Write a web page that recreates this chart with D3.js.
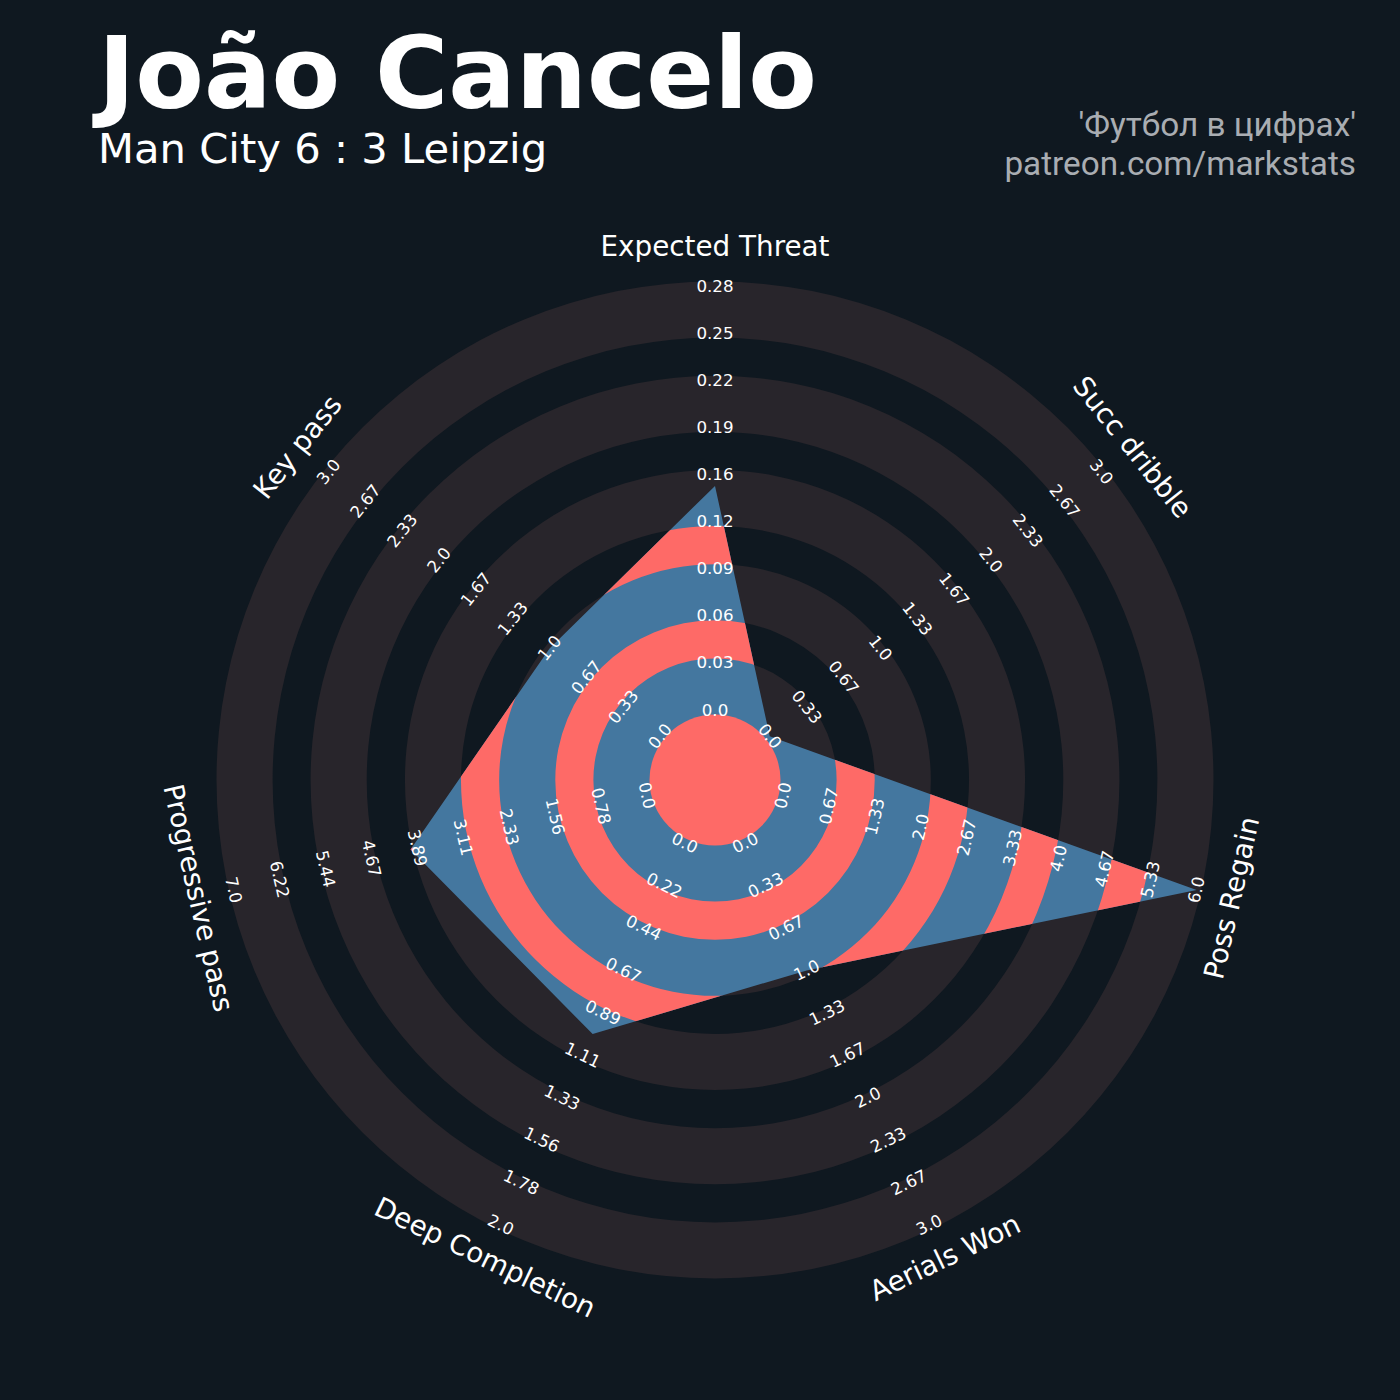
<!DOCTYPE html>
<html><head><meta charset="utf-8">
<script src="https://cdnjs.cloudflare.com/ajax/libs/d3/7.8.5/d3.min.js"></script>
<style>body{margin:0;background:#0f1820;} svg{display:block}</style>
</head><body>
<svg id="chart" width="1400" height="1400"></svg>
<script>
// ---------- data ----------
const params = ["Expected Threat", "Succ dribble", "Poss Regain", "Aerials Won", "Deep Completion", "Progressive pass", "Key pass"];
const rangeMin = [0, 0, 0, 0, 0, 0, 0];
const rangeMax = [0.28, 3, 6, 3, 2, 7, 3];
const values = [0.148, 0, 6, 1, 1, 4, 1];
const tickLabels = [
  ["0.0","0.03","0.06","0.09","0.12","0.16","0.19","0.22","0.25","0.28"],
  ["0.0","0.33","0.67","1.0","1.33","1.67","2.0","2.33","2.67","3.0"],
  ["0.0","0.67","1.33","2.0","2.67","3.33","4.0","4.67","5.33","6.0"],
  ["0.0","0.33","0.67","1.0","1.33","1.67","2.0","2.33","2.67","3.0"],
  ["0.0","0.22","0.44","0.67","0.89","1.11","1.33","1.56","1.78","2.0"],
  ["0.0","0.78","1.56","2.33","3.11","3.89","4.67","5.44","6.22","7.0"],
  ["0.0","0.33","0.67","1.0","1.33","1.67","2.0","2.33","2.67","3.0"]
];
const titleText = "João Cancelo";
const subtitleText = "Man City 6 : 3 Leipzig";
const creditLines = ["'Футбол в цифрах'", "patreon.com/markstats"];

// ---------- layout ----------
const W = 1400, H = 1400;
const cx = 715, cy = 780;
const r0 = 70, R = 494, numRings = 9, pad = 4.5;
const colors = { bg: "#0f1820", ring: "#28252b", blue: "#44779f", red: "#fe6a67", text: "#ffffff", credit: "#a9adb2" };

const svg = d3.select("#chart");
svg.append("rect").attr("width", W).attr("height", H).attr("fill", colors.bg);

const n = params.length;
const angle = i => i * 2 * Math.PI / n;
const ringScale = d3.scaleLinear().domain([0, numRings]).range([r0, R]);
const valueScales = params.map((p, i) => d3.scaleLinear().domain([rangeMin[i], rangeMax[i]]).range([r0, R]));

const g = svg.append("g").attr("transform", `translate(${cx},${cy})`);
const arc = d3.arc().startAngle(0).endAngle(2 * Math.PI);

// outer alternating rings
const ringBands = d3.range(0, numRings, 2).map(k => [ringScale(k) - pad, ringScale(k + 1) + pad]);
g.selectAll("path.ring").data(ringBands).join("path")
  .attr("class", "ring")
  .attr("d", d => arc({ innerRadius: d[0], outerRadius: d[1] }))
  .attr("fill", colors.ring);

// radar polygon
const radial = d3.lineRadial()
  .angle((d, i) => angle(i))
  .radius((d, i) => valueScales[i](d))
  .curve(d3.curveLinearClosed);
const polyD = radial(values);

svg.append("defs").append("clipPath").attr("id", "polyClip")
  .append("path").attr("d", polyD);

g.append("path").attr("d", polyD).attr("fill", colors.blue);

// alternate colour bands inside polygon
const redBands = [[0, ringScale(0) - pad]].concat(
  d3.range(1, numRings, 2).map(k => [ringScale(k) + pad, ringScale(k + 1) - pad]));
g.append("g").attr("clip-path", "url(#polyClip)")
  .selectAll("path").data(redBands).join("path")
  .attr("d", d => arc({ innerRadius: d[0], outerRadius: d[1] }))
  .attr("fill", colors.red);

// rotation helper (degrees)
function rotFor(i) {
  const deg = i * 360 / n;
  if (deg > 90 && deg < 270) return deg - 180;
  if (deg >= 270) return deg - 360;
  return deg;
}

// range labels
params.forEach((p, i) => {
  const a = angle(i);
  const rot = rotFor(i);
  tickLabels[i].forEach((t, j) => {
    const r = ringScale(j);
    const x = r * Math.sin(a), y = -r * Math.cos(a);
    g.append("text")
      .attr("transform", `translate(${x},${y}) rotate(${rot})`)
      .attr("text-anchor", "middle")
      .attr("dy", "0.33em")
      .attr("font-family", "DejaVu Sans")
      .attr("font-size", 16.7)
      .attr("fill", colors.text)
      .text(t);
  });
});

// parameter labels
const labelR = 532;
params.forEach((p, i) => {
  const a = angle(i);
  const x = labelR * Math.sin(a), y = -labelR * Math.cos(a);
  g.append("text")
    .attr("transform", `translate(${x},${y}) rotate(${rotFor(i)})`)
    .attr("text-anchor", "middle")
    .attr("dy", "0.27em")
    .attr("font-family", "DejaVu Sans")
    .attr("font-size", 27.8)
    .attr("fill", colors.text)
    .text(p);
});

// titles
svg.append("text").attr("x", 98).attr("y", 108)
  .attr("font-family", "DejaVu Sans").attr("font-weight", "bold")
  .attr("font-size", 100).attr("fill", colors.text).text(titleText);
svg.append("text").attr("x", 98).attr("y", 163)
  .attr("font-family", "DejaVu Sans")
  .attr("font-size", 41.7).attr("fill", colors.text).text(subtitleText);
creditLines.forEach((t, i) => {
  svg.append("text").attr("x", 1356).attr("y", 136 + i * 39)
    .attr("text-anchor", "end")
    .attr("font-family", "Roboto")
    .attr("font-size", 33.3).attr("fill", colors.credit).text(t);
});
</script>
</body></html>
